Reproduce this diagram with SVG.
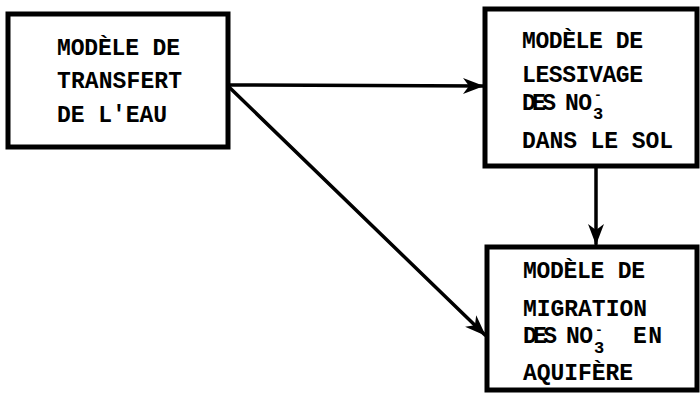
<svg xmlns="http://www.w3.org/2000/svg" width="700" height="395" viewBox="0 0 700 395">
  <style>
    .box { fill: #fff; stroke: #000; stroke-width: 5; stroke-linejoin: miter; }
    .lbl { font-family: "Liberation Mono", "DejaVu Sans Mono", monospace; font-weight: bold; font-size: 23px; fill: #000; }
    .sub { font-size: 17px; }
    .sup { font-size: 13px; }
    .link { fill: none; stroke: #000; stroke-width: 3.5; stroke-linecap: round; }
  </style>
  <defs>
    <marker id="arrow" viewBox="0 0 22 18" refX="20" refY="9" markerWidth="22" markerHeight="18" markerUnits="userSpaceOnUse" orient="auto">
      <path d="M0,1 L21,9 L0,17 L6,9 Z" fill="#000"/>
    </marker>
  </defs>

  <rect width="700" height="395" fill="#fff"/>

  <!-- connectors -->
  <g id="connectors">
    <line class="link" x1="229" y1="85" x2="483" y2="86" marker-end="url(#arrow)"/>
    <line class="link" x1="229" y1="87" x2="485" y2="335" marker-end="url(#arrow)"/>
    <line class="link" x1="596" y1="168" x2="596" y2="244" marker-end="url(#arrow)"/>
  </g>

  <!-- water transfer model -->
  <g id="node-transfert">
    <rect class="box" x="8" y="14" width="220" height="133"/>
    <text class="lbl" x="57" y="55" textLength="123">MODÈLE DE</text>
    <text class="lbl" x="57" y="88" textLength="125">TRANSFERT</text>
    <text class="lbl" x="57" y="122" textLength="110">DE L'EAU</text>
  </g>

  <!-- nitrate leaching model -->
  <g id="node-lessivage">
    <rect class="box" x="485" y="9" width="212" height="157"/>
    <text class="lbl" x="522" y="48" textLength="121">MODÈLE DE</text>
    <text class="lbl" x="522" y="82" textLength="121">LESSIVAGE</text>
    <text class="lbl" x="522" y="110" textLength="34">DES</text>
    <text class="lbl" x="565" y="110" textLength="27">NO</text>
    <text class="lbl sub" x="593" y="119">3</text>
    <text class="lbl sup" x="594" y="99">-</text>
    <text class="lbl" x="522" y="148" textLength="151">DANS LE SOL</text>
  </g>

  <!-- aquifer migration model -->
  <g id="node-migration">
    <rect class="box" x="487" y="247" width="210" height="143"/>
    <text class="lbl" x="523" y="278" textLength="122">MODÈLE DE</text>
    <text class="lbl" x="523" y="316" textLength="124">MIGRATION</text>
    <text class="lbl" x="523" y="343" textLength="34">DES</text>
    <text class="lbl" x="566" y="343" textLength="27">NO</text>
    <text class="lbl sub" x="594" y="353">3</text>
    <text class="lbl sup" x="595" y="334">-</text>
    <text class="lbl" x="633" y="343" textLength="29">EN</text>
    <text class="lbl" x="523" y="380" textLength="110">AQUIFÈRE</text>
  </g>
</svg>
